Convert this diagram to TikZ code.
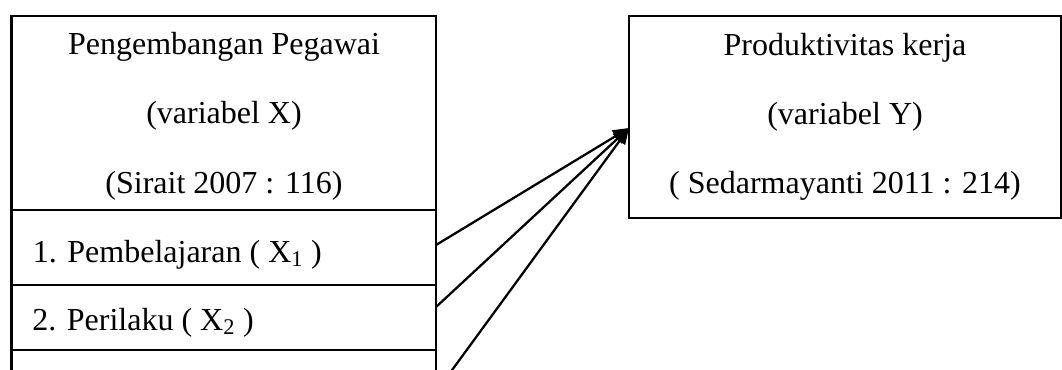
\documentclass[tikz,border=0pt]{standalone}
\usepackage{fontspec}
\setmainfont{Liberation Serif}
\usetikzlibrary{arrows.meta}
\begin{document}
\begin{tikzpicture}[x=0.75pt,y=-0.75pt,
  box/.style={draw,line width=1.6pt,inner sep=0pt,outer sep=0pt,anchor=north west},
  txt/.style={inner sep=0pt,anchor=base,font=\fontsize{24}{28}\selectfont},
  ltxt/.style={inner sep=0pt,anchor=base west,font=\fontsize{24}{28}\selectfont},
  conn/.style={line width=1.7pt,-{Triangle[length=12pt,width=10pt]}}]
\useasboundingbox (0,0) rectangle (1062,369);
\clip (0,0) rectangle (1062,369);
% left box
\node[box,minimum width=424.5*0.75pt,minimum height=194*0.75pt] (head) at (11.5,16) {};
\node[box,minimum width=424.5*0.75pt,minimum height=75*0.75pt] (i1) at (11.5,210) {};
\node[box,minimum width=424.5*0.75pt,minimum height=65*0.75pt] (i2) at (11.5,285) {};
\node[box,minimum width=424.5*0.75pt,minimum height=70*0.75pt] (i3) at (11.5,350) {};
\node[txt] (h1) at (224,54) {Pengembangan Pegawai};
\node[txt] (h2) at (224,123) {(variabel X)};
\node[txt] (h3) at (224,193) {(Sirait 2007 : 116)};
\node[ltxt] (t1) at (32.5,262) {1. Pembelajaran ( X\textsubscript{1} )};
\node[ltxt] (t2) at (32,330) {2. Perilaku ( X\textsubscript{2} )};
% right box
\node[box,minimum width=432*0.75pt,minimum height=202*0.75pt] (y) at (629,16) {};
\node[txt] (y1) at (845,55) {Produktivitas kerja};
\node[txt] (y2) at (845,124) {(variabel Y)};
\node[txt] (y3) at (845,193) {( Sedarmayanti 2011 : 214)};
% connectors
\coordinate (tip) at (629,128);
\coordinate (s1) at (436,245);
\coordinate (s2) at (436,307);
\coordinate (s3) at (436,392);
\draw[conn] (s1) -- (tip);
\draw[conn] (s2) -- (tip);
\draw[conn] (s3) -- (tip);
\end{tikzpicture}
\end{document}
